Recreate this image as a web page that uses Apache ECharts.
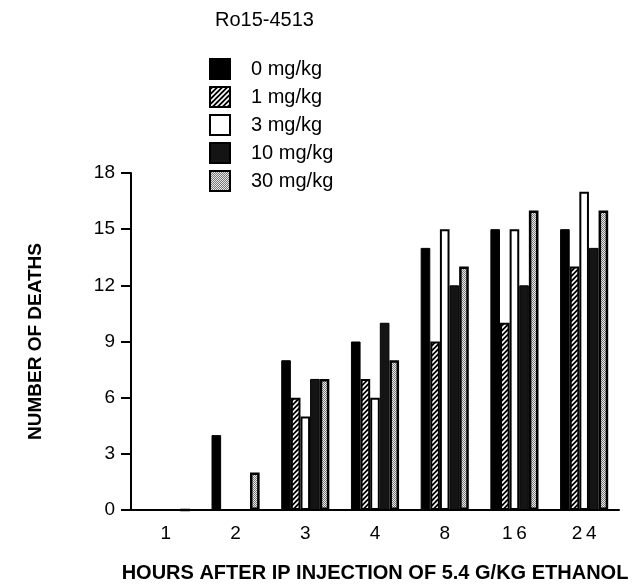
<!DOCTYPE html>
<html>
<head>
<meta charset="utf-8">
<script src="https://cdn.jsdelivr.net/npm/echarts@6/dist/echarts.min.js"></script>
<style>
  html, body { margin: 0; padding: 0; background: #fff; }
  #chart { width: 641px; height: 588px; }
</style>
</head>
<body>
<div id="chart"></div>
<script>
// hours after injection
const hours = ['1', '2', '3', '4', '8', '16', '24'];
// number of deaths per dose of Ro15-4513
const dose0 = [0, 4, 8, 9, 14, 15, 15];
const dose1 = [0, 0, 6, 7, 9, 10, 13];
const dose3 = [0, 0, 5, 6, 15, 15, 17];
const dose10 = [0, 0, 7, 10, 12, 12, 14];
const dose30 = [0, 2, 7, 8, 13, 16, 16];
const doseNames = ['0 mg/kg', '1 mg/kg', '3 mg/kg', '10 mg/kg', '30 mg/kg'];
const yTicks = [0, 3, 6, 9, 12, 15, 18];

// hatch pattern (white diagonal stripes on black)
function hatchCanvas() {
  const c = document.createElement('canvas');
  c.width = 5; c.height = 5;
  const g = c.getContext('2d');
  g.fillStyle = '#000';
  g.fillRect(0, 0, 5, 5);
  g.strokeStyle = '#fff';
  g.lineWidth = 1.6;
  g.beginPath();
  g.moveTo(-1, 6); g.lineTo(6, -1);
  g.moveTo(-1, 1); g.lineTo(1, -1);
  g.moveTo(4, 6); g.lineTo(6, 4);
  g.stroke();
  return c;
}
// stipple pattern (grey dots)
function stippleCanvas() {
  const c = document.createElement('canvas');
  c.width = 2; c.height = 2;
  const g = c.getContext('2d');
  g.fillStyle = '#e8e8e8';
  g.fillRect(0, 0, 2, 2);
  g.fillStyle = '#7a7a7a';
  g.fillRect(0, 0, 1, 1);
  g.fillRect(1, 1, 1, 1);
  return c;
}

const fills = [
  '#000',
  { image: hatchCanvas(), repeat: 'repeat' },
  '#fff',
  '#141414',
  { image: stippleCanvas(), repeat: 'repeat' }
];
const borders = [1, 2, 2, 1, 2.5];
const allData = [dose0, dose1, dose3, dose10, dose30];

const font = 'Liberation Sans, Arial, Helvetica, sans-serif';

let mychart = echarts.init(document.getElementById('chart'));
mychart.setOption({
  animation: false,
  title: {
    text: 'Ro15-4513',
    left: 210,
    top: 5,
    textStyle: { fontFamily: font, fontSize: 20, fontWeight: 'normal', color: '#000' }
  },
  legend: {
    orient: 'vertical',
    left: 204,
    top: 53,
    itemWidth: 20,
    itemHeight: 20,
    itemGap: 6,
    icon: 'rect',
    textStyle: { fontFamily: font, fontSize: 20, color: '#000', padding: [0, 0, 0, 16] },
    data: doseNames
  },
  grid: {
    left: 131,
    right: 22,
    top: 173,
    bottom: 68
  },
  xAxis: {
    type: 'category',
    data: hours,
    name: 'HOURS AFTER IP INJECTION OF 5.4 G/KG ETHANOL',
    nameLocation: 'middle',
    nameGap: 53,
    nameTextStyle: { fontFamily: font, fontSize: 20, fontWeight: 'bold', color: '#000' },
    axisLine: { lineStyle: { color: '#000', width: 2 } },
    axisTick: { alignWithLabel: true, length: 10, lineStyle: { color: '#000', width: 2 } },
    axisLabel: {
      fontFamily: font, fontSize: 19, color: '#000', margin: 14,
      // typewriter-like spacing between digits
      formatter: function (v) { return v.split('').join('\u2009'); }
    }
  },
  yAxis: {
    type: 'value',
    min: yTicks[0],
    max: yTicks[yTicks.length - 1],
    interval: 3,
    name: 'NUMBER OF DEATHS',
    nameLocation: 'middle',
    nameGap: 86,
    nameRotate: 90,
    nameTextStyle: { fontFamily: font, fontSize: 19, fontWeight: 'bold', color: '#000' },
    splitLine: { show: false },
    axisLine: { show: true, lineStyle: { color: '#000', width: 2 } },
    axisTick: { show: true, length: 10, lineStyle: { color: '#000', width: 2 } },
    axisLabel: { fontFamily: font, fontSize: 19, color: '#000', margin: 16 }
  },
  series: doseNames.map(function (name, i) {
    return {
      name: name,
      type: 'bar',
      data: allData[i],
      barGap: '0%',
      barCategoryGap: '31%',
      itemStyle: {
        color: fills[i],
        borderColor: '#000',
        borderWidth: borders[i]
      }
    };
  })
});
</script>
</body>
</html>
